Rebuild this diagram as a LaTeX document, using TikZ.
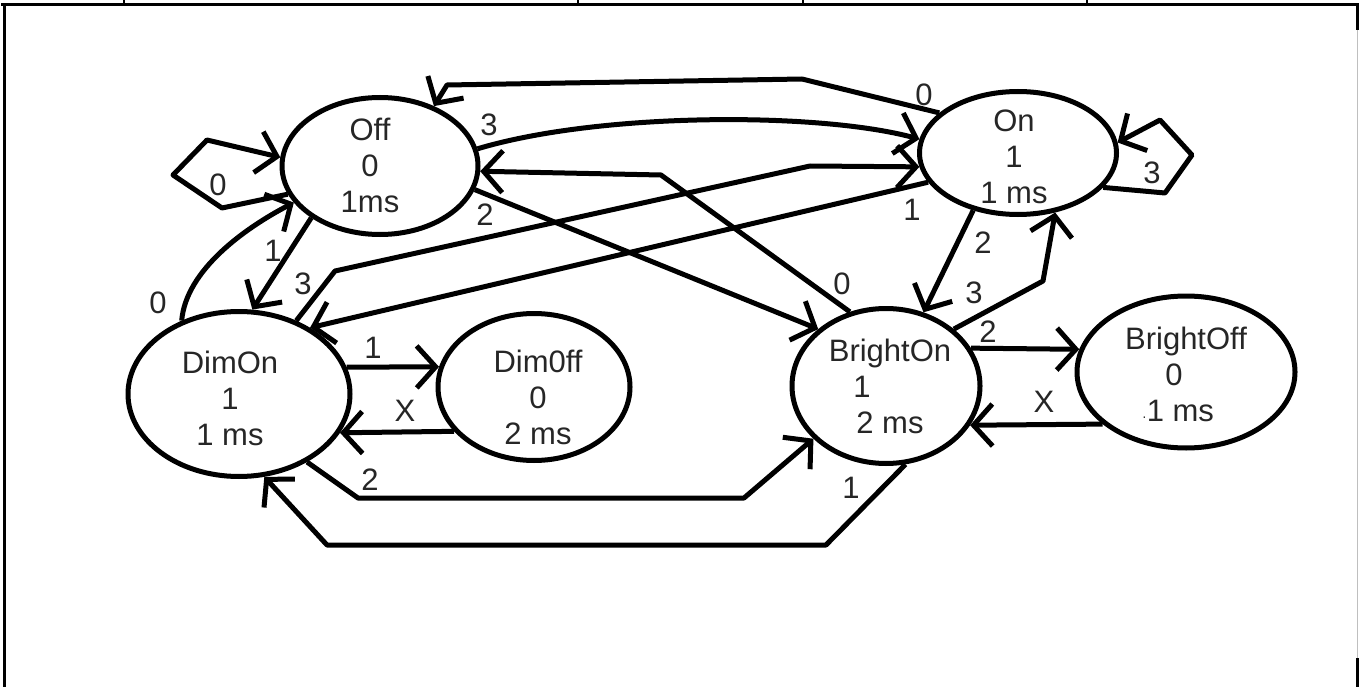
\documentclass[tikz,border=0pt]{standalone}
\usepackage{fontspec}
\setmainfont{Liberation Sans}
\usetikzlibrary{arrows.meta,shapes.geometric}
\begin{document}
\begin{tikzpicture}[x=1pt,y=-1pt,
  state/.style={draw, ellipse, line width=5pt, inner sep=0pt},
  stxt/.style={align=center, font=\fontsize{31}{36}\selectfont, text=black!85, inner sep=0pt},
  lbl/.style={font=\fontsize{31}{36}\selectfont, text=black!85, inner sep=0pt},
  edge/.style={line width=5pt, line join=round, -{Straight Barb[length=19pt,width=42pt]}},
  frame/.style={line width=3pt},
]
\useasboundingbox (0,0) rectangle (1359,687);
% frame
\draw[frame] (1,5) -- (1359,5);
\draw[frame] (4.5,5) -- (4.5,687);
\draw[frame] (1357.5,5) -- (1357.5,30);
\draw[line width=1.5pt, black!25] (1357.5,30) -- (1357.5,658);
\draw[frame] (1357.5,658) -- (1357.5,687);
\foreach \tx in {124,578,803,1087} \draw[line width=2pt] (\tx,0) -- (\tx,5);

% states
\node[state, minimum width=196pt, minimum height=137pt] (off) at (380,166) {};
\node[state, minimum width=197pt, minimum height=123pt] (on) at (1018,153) {};
\node[state, minimum width=222pt, minimum height=165pt] (dimon) at (239,394) {};
\node[state, minimum width=192pt, minimum height=147pt] (dimoff) at (534,387) {};
\node[state, minimum width=188pt, minimum height=155pt] (brighton) at (886,386) {};
\node[state, minimum width=218pt, minimum height=152pt] (brightoff) at (1186,372) {};

\node[stxt] (offt) at (370,165) {Off\\0\\1ms};
\node[stxt] (ont) at (1014,157) {On\\1\\1 ms};
\node[stxt] (dimont) at (230,398) {DimOn\\1\\1 ms};
\node[stxt] (dimofft) at (538,397) {Dim0ff\\0\\2 ms};
\node[stxt] (brightont) at (890,386) {BrightOn\\\makebox[0pt]{\hspace{-56pt}1}\\2 ms};
\node[stxt] (brightofft) at (1186,374) {BrightOff\\\makebox[0pt]{\hspace{-24pt}0}\\\makebox[0pt]{\hspace{-16pt}{\fontsize{14}{14}\selectfont·}1 ms}};

% edges
\draw[edge] (off.197) -- (222,208) -- (173,175) -- (207,140) -- (off.175);
\draw[edge] (off.217) -- (dimon.81);
\draw[edge] (dimon.128) .. controls (186,270) and (245,228) .. (off.203);
\draw[edge] (on.153) -- (802,79) -- (447,85) -- (off.48);
\draw[edge] (off.10) .. controls (600,112) and (820,112) .. (on.172);
\draw[edge] (brighton.116) -- (661,175) -- (off.357);
\draw[edge] (off.346) -- (brighton.140);
\draw[edge] (on.198) -- (dimon.43);
\draw[edge] (dimon.52) -- (335,271) -- (810,166) -- (on.188);
\draw[edge] (dimon.14) -- (dimoff.168);
\draw[edge] (dimoff.209) -- (dimon.339);
\draw[edge] (dimon.315) -- (358,498) -- (744,498) -- (brighton.216);
\draw[edge] (brighton.284) -- (826,545) -- (327,545) -- (dimon.287);
\draw[edge] (on.232) -- (brighton.63);
\draw[edge] (brighton.40) -- (1043,281) -- (on.302);
\draw[edge] (on.338) -- (1165,193) -- (1192,155) -- (1160,120) -- (on.6);
\draw[edge] (brighton.24) -- (brightoff.168);
\draw[edge] (brightoff.212) -- (brighton.335);

% labels
\node[lbl] (l1) at (218,185) {0};
\node[lbl] (l2) at (273,251) {1};
\node[lbl] (l3) at (158,303) {0};
\node[lbl] (l4) at (924,95) {0};
\node[lbl] (l5) at (489,125) {3};
\node[lbl] (l6) at (842,284) {0};
\node[lbl] (l7) at (485,215) {2};
\node[lbl] (l8) at (912,210) {1};
\node[lbl] (l9) at (303,284) {3};
\node[lbl] (l10) at (373,348) {1};
\node[lbl] (l11) at (405,411) {X};
\node[lbl] (l12) at (370,480) {2};
\node[lbl] (l13) at (851,488) {1};
\node[lbl] (l14) at (983,243) {2};
\node[lbl] (l15) at (974,293) {3};
\node[lbl] (l16) at (1152,173) {3};
\node[lbl] (l17) at (988,332) {2};
\node[lbl] (l18) at (1044,402) {X};
\end{tikzpicture}
\end{document}
